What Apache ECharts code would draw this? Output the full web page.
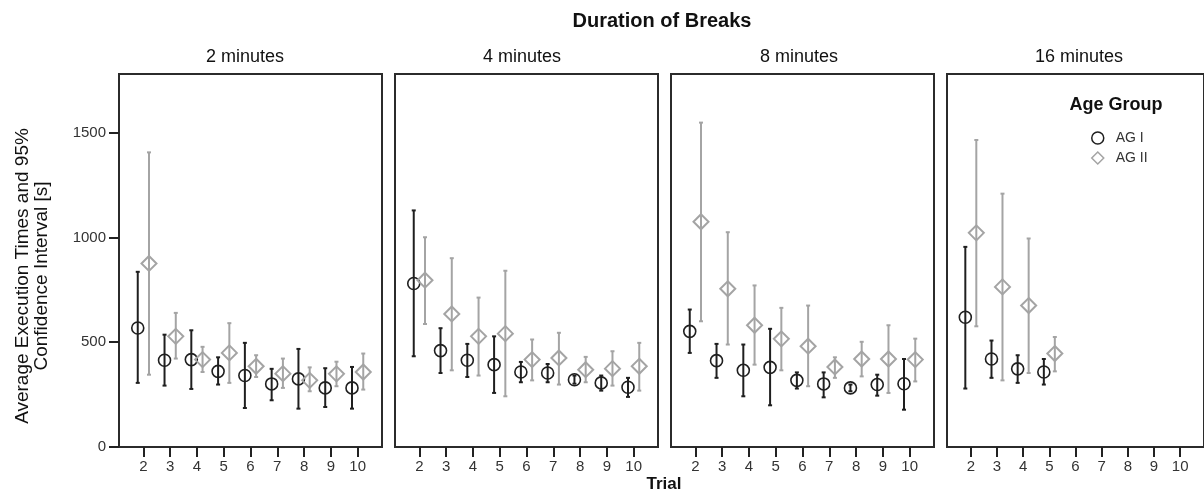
<!DOCTYPE html>
<html>
<head>
<meta charset="utf-8">
<title>Duration of Breaks</title>
<script src="https://cdn.jsdelivr.net/npm/echarts@6/dist/echarts.min.js"></script>
<style>
html, body { margin: 0; padding: 0; background: #fff; }
#chart { width: 1204px; height: 493px; }
</style>
</head>
<body>
<div id="chart"></div>
<script>
// trials shown on every panel, and one panel per break length
const trials = [2, 3, 4, 5, 6, 7, 8, 9, 10];
const panelNames = ['2 minutes', '4 minutes', '8 minutes', '16 minutes'];
const yTicks = [0, 500, 1000, 1500];

// AG I: mean execution time and 95% CI, one row per panel
const ag1Mean = [
  [568, 414, 417, 361, 341, 301, 325, 282, 282],
  [780, 460, 414, 393, 358, 353, 321, 306, 285],
  [552, 412, 366, 380, 318, 301, 282, 298, 302],
  [619, 420, 373, 358]
];
const ag1Low = [
  [306, 293, 277, 298, 186, 223, 183, 191, 183],
  [433, 353, 334, 258, 309, 309, 302, 269, 239],
  [449, 330, 242, 199, 279, 237, 266, 245, 178],
  [279, 330, 306, 298]
];
const ag1High = [
  [836, 536, 557, 428, 497, 373, 468, 376, 382],
  [1129, 567, 492, 528, 406, 396, 341, 341, 330],
  [656, 492, 489, 564, 356, 356, 298, 345, 420],
  [955, 508, 438, 420]
];

// AG II
const ag2Mean = [
  [876, 528, 417, 449, 385, 350, 318, 349, 358],
  [796, 635, 528, 541, 417, 425, 369, 374, 385],
  [1075, 755, 581, 516, 481, 382, 420, 420, 417],
  [1022, 764, 675, 446]
];
const ag2Low = [
  [345, 422, 358, 306, 334, 282, 266, 290, 274],
  [587, 366, 341, 242, 318, 298, 309, 293, 269],
  [600, 489, 393, 366, 290, 330, 337, 258, 313],
  [576, 318, 353, 361]
];
const ag2High = [
  [1406, 640, 478, 591, 438, 422, 380, 407, 446],
  [1001, 901, 713, 841, 513, 545, 430, 457, 497],
  [1548, 1025, 771, 664, 675, 428, 502, 581, 517],
  [1465, 1209, 995, 525]
];

const font = 'Liberation Sans, Arial, Helvetica, sans-serif';
const panelLeft = 119, panelStep = 276, panelWidth = 263, panelTop = 74, panelHeight = 373;
const titleX = [245, 522, 799, 1079];

const groups = [
  { name: 'AG I', mean: ag1Mean, low: ag1Low, high: ag1High, color: '#1f1f1f', symbol: 'circle', size: 12, shift: -0.21 },
  { name: 'AG II', mean: ag2Mean, low: ag2Low, high: ag2High, color: '#a4a4a4', symbol: 'diamond', size: 15, shift: 0.21 }
];

function errorBar(color) {
  return function (params, api) {
    const x = api.value(0);
    const top = api.coord([x, api.value(2)]);
    const bot = api.coord([x, api.value(1)]);
    const line = (x1, y1, x2, y2) => ({
      type: 'line',
      shape: { x1: x1, y1: y1, x2: x2, y2: y2 },
      style: { stroke: color, lineWidth: 2 }
    });
    return {
      type: 'group',
      children: [
        line(top[0], top[1], bot[0], bot[1]),
        line(top[0] - 2, top[1], top[0] + 2, top[1]),
        line(bot[0] - 2, bot[1], bot[0] + 2, bot[1])
      ]
    };
  };
}

const grids = [], xAxes = [], yAxes = [], series = [], texts = [];

panelNames.forEach(function (name, p) {
  grids.push({
    left: panelLeft + p * panelStep, top: panelTop,
    width: panelWidth, height: panelHeight,
    show: true, borderColor: '#2b2b2b', borderWidth: 2,
    backgroundColor: 'transparent'
  });
  xAxes.push({
    type: 'value', gridIndex: p, min: 1.09, max: 10.91,
    axisLine: { show: false },
    splitLine: { show: false },
    axisTick: { show: true, length: 10, lineStyle: { color: '#222', width: 2 }, customValues: trials },
    axisLabel: { margin: 12, fontSize: 15, color: '#333', fontFamily: font, customValues: trials }
  });
  yAxes.push({
    type: 'value', gridIndex: p, min: 0, max: 1780,
    axisLine: { show: false },
    splitLine: { show: false },
    axisTick: { show: p === 0, length: 10, lineStyle: { color: '#222', width: 2 }, customValues: yTicks },
    axisLabel: {
      show: p === 0, margin: 13, fontSize: 15, color: '#333', fontFamily: font,
      customValues: yTicks, formatter: v => String(v)
    }
  });
  texts.push({
    type: 'text', x: titleX[p], y: 57,
    style: { text: name, fontSize: 18, fontFamily: font, fill: '#111', align: 'center', verticalAlign: 'middle' }
  });

  groups.forEach(function (g) {
    const mean = g.mean[p];
    series.push({
      type: 'custom',
      xAxisIndex: p, yAxisIndex: p,
      silent: true, z: 2,
      renderItem: errorBar(g.color),
      encode: { x: 0, y: [1, 2] },
      data: mean.map((m, i) => [trials[i] + g.shift, g.low[p][i], g.high[p][i]])
    });
    series.push({
      type: 'scatter', name: g.name,
      xAxisIndex: p, yAxisIndex: p, z: 3,
      symbol: g.symbol, symbolSize: g.size,
      itemStyle: { color: 'rgba(0,0,0,0)', borderColor: g.color, borderWidth: g.symbol === 'circle' ? 1.6 : 2, opacity: 1 },
      data: mean.map((m, i) => [trials[i] + g.shift, m])
    });
  });
});

texts.push(
  {
    type: 'text', x: 662, y: 21,
    style: { text: 'Duration of Breaks', fontSize: 20, fontWeight: 'bold', fontFamily: font, fill: '#111', align: 'center', verticalAlign: 'middle' }
  },
  {
    type: 'text', x: 664, y: 484,
    style: { text: 'Trial', fontSize: 17, fontWeight: 'bold', fontFamily: font, fill: '#111', align: 'center', verticalAlign: 'middle' }
  },
  {
    type: 'text', x: 32, y: 276, rotation: Math.PI / 2,
    style: {
      text: 'Average Execution Times and 95%\nConfidence Interval [s]',
      fontSize: 19, lineHeight: 19, fontFamily: font, fill: '#111', align: 'center', verticalAlign: 'middle'
    }
  },
  {
    type: 'text', x: 1116, y: 105,
    style: { text: 'Age Group', fontSize: 18, fontWeight: 'bold', fontFamily: font, fill: '#111', align: 'center', verticalAlign: 'middle' }
  }
);

const chart = echarts.init(document.getElementById('chart'));
chart.setOption({
  animation: false,
  backgroundColor: '#fff',
  grid: grids,
  xAxis: xAxes,
  yAxis: yAxes,
  legend: {
    orient: 'vertical', left: 1086, top: 126,
    itemWidth: 12, itemHeight: 12, itemGap: 6,
    selectedMode: false,
    data: [
      { name: 'AG I', itemStyle: { borderWidth: 1.5 } },
      { name: 'AG II', itemStyle: { borderWidth: 1.5 } }
    ],
    textStyle: { fontSize: 14, color: '#333', fontFamily: font, padding: [0, 0, 0, 7] }
  },
  graphic: texts,
  series: series
});
</script>
</body>
</html>
